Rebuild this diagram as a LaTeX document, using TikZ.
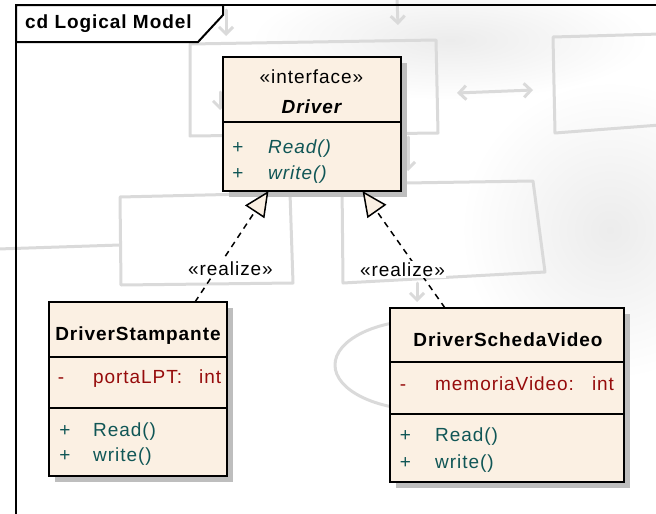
\documentclass[tikz,border=0pt]{standalone}
\usepackage{fontspec}
\setmainfont{Liberation Sans}[LetterSpace=5.0]
\usetikzlibrary{arrows.meta,shadows}

\definecolor{classfill}{RGB}{251,240,227}
\definecolor{opcolor}{RGB}{16,86,86}
\definecolor{attrcolor}{RGB}{150,12,12}
\definecolor{shadowgray}{RGB}{190,190,190}
\definecolor{sketchgray}{RGB}{218,218,218}
\definecolor{hazegray}{RGB}{236,236,236}

\tikzset{
  sketch/.style={draw=sketchgray, line width=3pt, line cap=round, line join=round},
  sketcharrow/.style={sketch, -{Straight Barb[length=7pt, width=14pt]}},
  frameline/.style={line width=2pt, draw=black},
  classbox/.style={draw=black, line width=2pt, fill=classfill, anchor=north west,
    inner sep=0pt, outer sep=0pt,
    drop shadow={shadow xshift=6pt, shadow yshift=-6pt, fill=shadowgray, opacity=1}},
  classline/.style={line width=2pt, draw=black},
  txt/.style={inner sep=0pt, font=\fontsize{19}{22}\selectfont},
  leftxt/.style={txt, anchor=base west},
  ctrtxt/.style={txt, anchor=base},
  optxt/.style={leftxt, text=opcolor},
  opsign/.style={ctrtxt, text=opcolor},
  attrtxt/.style={leftxt, text=attrcolor},
  attrsign/.style={ctrtxt, text=attrcolor},
  realize/.style={dashed, dash pattern=on 6pt off 5pt, line width=1.5pt,
    -{Triangle[length=25pt, width=23pt, fill=classfill, line width=1.5pt]}},
  stereo/.style={ctrtxt, fill=white, inner sep=1.5pt}
}

\begin{document}
\begin{tikzpicture}[x=1pt, y=-1pt]
\useasboundingbox (0,0) rectangle (656,514);

% soft grey haze of the background paper
\begin{scope}
  \clip (0,0) rectangle (656,514);
  \shade[inner color=hazegray, outer color=white] (610,230) ellipse [x radius=150, y radius=150];
  \shade[inner color=hazegray, outer color=white] (450,40) ellipse [x radius=200, y radius=60];
\end{scope}

% faint hand-drawn sketch in the background
\draw[sketcharrow] (397,-2) -- (398,25);
\draw[sketcharrow] (226,10) -- (226,36);
\draw[sketch] (190,44) -- (436,40) -- (438,133) -- (190,136) -- cycle;
\draw[sketch, {Straight Barb[length=7pt, width=14pt]}-{Straight Barb[length=7pt, width=14pt]}] (457,93) -- (533,90);
\draw[sketch] (660,34) -- (553,37) -- (555,133) -- (660,125);
\draw[sketcharrow] (220,92) -- (220,110);
\draw[sketcharrow] (408,137) -- (408,171);
\draw[sketch] (120,197) -- (290,193) -- (293,283) -- (121,285) -- cycle;
\draw[sketch] (-2,249) -- (120,245);
\draw[sketch] (342,184) -- (533,181) -- (545,272) -- (343,283) -- cycle;
\draw[sketcharrow] (417,283) -- (417,302);
\draw[sketch] (425,365) ellipse [x radius=90, y radius=45];

% diagram frame with its name tab
\draw[frameline] (16,516) -- (16,5) -- (660,5);
\draw[frameline, fill=white] (16,5) -- (16,42) -- (198,42) -- (223,15) -- (223,5) -- cycle;
\node[leftxt, font=\fontsize{19}{22}\selectfont\bfseries] (title) at (25,28) {cd Logical Model};

% interface Driver
\node[classbox, minimum width=178pt, minimum height=134pt] (drv) at (222.5,57) {};
\draw[classline] ([yshift=-65pt]drv.north west) -- ([yshift=-65pt]drv.north east);
\node[ctrtxt] (drvstereo) at (311.5,83.5) {«interface»};
\node[ctrtxt, font=\fontsize{19}{22}\selectfont\bfseries\itshape] (drvname) at (311.5,113) {Driver};
\node[opsign] (drvp1) at (238,153.5) {+};
\node[optxt, font=\fontsize{19}{22}\selectfont\itshape] (drvread) at (268,153.5) {Read()};
\node[opsign] (drvp2) at (238,179) {+};
\node[optxt, font=\fontsize{19}{22}\selectfont\itshape] (drvwrite) at (268,179) {write()};

% class DriverStampante
\node[classbox, minimum width=178pt, minimum height=174pt] (stamp) at (49,302) {};
\draw[classline] ([yshift=-55pt]stamp.north west) -- ([yshift=-55pt]stamp.north east);
\draw[classline] ([yshift=-106pt]stamp.north west) -- ([yshift=-106pt]stamp.north east);
\node[ctrtxt, font=\fontsize{19}{22}\selectfont\bfseries] (stampname) at (138,340.5) {DriverStampante};
\node[attrsign] (stampm) at (61,383) {-};
\node[attrtxt] (stampattr) at (93,383) {portaLPT:\hspace{17pt}int};
\node[opsign] (stampp1) at (65,436.5) {+};
\node[optxt] (stampread) at (93,436.5) {Read()};
\node[opsign] (stampp2) at (65,461.5) {+};
\node[optxt] (stampwrite) at (93,461.5) {write()};

% class DriverSchedaVideo
\node[classbox, minimum width=234pt, minimum height=174pt] (video) at (390,308) {};
\draw[classline] ([yshift=-54pt]video.north west) -- ([yshift=-54pt]video.north east);
\draw[classline] ([yshift=-106pt]video.north west) -- ([yshift=-106pt]video.north east);
\node[ctrtxt, font=\fontsize{19}{22}\selectfont\bfseries] (videoname) at (508,346) {DriverSchedaVideo};
\node[attrsign] (videom) at (403,390.5) {-};
\node[attrtxt] (videoattr) at (435,390.5) {memoriaVideo:\hspace{18pt}int};
\node[opsign] (videop1) at (405.5,441.5) {+};
\node[optxt] (videoread) at (435,441.5) {Read()};
\node[opsign] (videop2) at (405.5,468) {+};
\node[optxt] (videowrite) at (435,468) {write()};

% realizations
\draw[realize] ([xshift=146pt]stamp.north west) -- ([xshift=46pt]drv.south west);
\draw[realize] ([xshift=55pt]video.north west) -- ([xshift=140pt]drv.south west);
\node[stereo] (real1) at (230.5,275) {«realize»};
\node[stereo] (real2) at (402.5,276.5) {«realize»};
\end{tikzpicture}
\end{document}
